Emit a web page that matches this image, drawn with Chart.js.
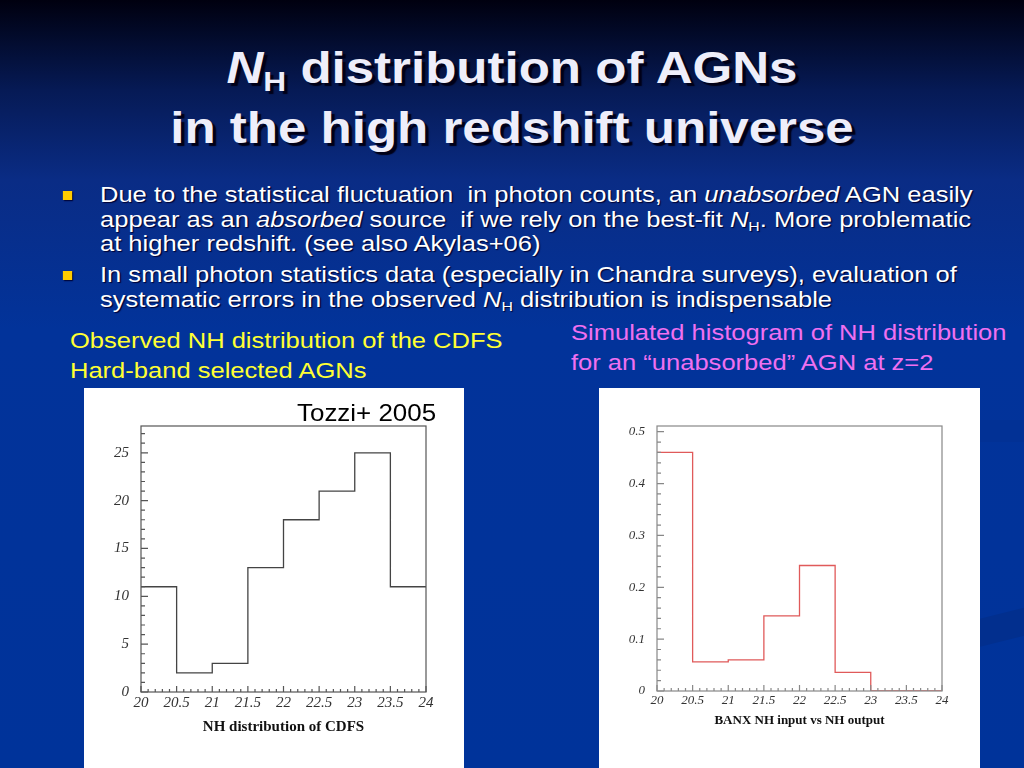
<!DOCTYPE html>
<html>
<head>
<meta charset="utf-8">
<script src="https://cdn.jsdelivr.net/npm/chart.js@4.4.1/dist/chart.umd.min.js"></script>
<style>
  html, body { margin: 0; padding: 0; }
  body {
    width: 1024px; height: 768px; overflow: hidden; position: relative;
    background: linear-gradient(to bottom, #00000f 0px, #061a55 90px, #0a2c85 180px, #02339a 330px, #00339a 768px);
    font-family: "Liberation Sans", Arial, sans-serif;
  }
  .swoosh1 { position: absolute; left: 975px; top: 610px; width: 80px; height: 28px; background: #022f8e; transform: skewY(-14deg); }
  .swoosh2 { position: absolute; left: 975px; top: 420px; width: 80px; height: 22px; background: #023195; }
  .title {
    position: absolute; left: 0; top: 38px; width: 1024px; text-align: center;
    font-weight: bold; font-size: 44px; line-height: 60px; color: #eeeefa;
    text-shadow: 3px 3px 1px #000018;
    transform: scaleX(1.16); transform-origin: 512px 0;
  }
  .sub { font-size: 0.62em; position: relative; top: 0.3em; line-height: 0; }
  .bullets {
    position: absolute; left: 100px; top: 183px; color: #fff; font-size: 22px; line-height: 24.5px;
    text-shadow: 1px 1px 1px #000030; white-space: nowrap;
    transform: scaleX(1.16); transform-origin: 0 0;
  }
  .bullets p { margin: 0 0 6.5px 0; position: relative; }
  .bullets p::before { content: ""; position: absolute; left: -32px; top: 8px; width: 8px; height: 9px; background: #ffcc00; box-shadow: 1px 1px 1px #000030; }
  .lbl { position: absolute; font-size: 22px; line-height: 30px; white-space: nowrap; transform: scaleX(1.16); transform-origin: 0 0; }
  .yel { left: 70px; top: 326px; color: #ffff33; }
  .mag { left: 571px; top: 318px; color: #f070f0; }
  .panel { position: absolute; background: #fff; }
  #p1 { left: 84px; top: 388px; width: 380px; height: 380px; }
  #p2 { left: 599px; top: 388px; width: 381px; height: 380px; }
  .tozzi { position: absolute; left: 297px; top: 398px; font-size: 24px; line-height: 30px; color: #000; transform: scaleX(1.08); transform-origin: 0 0; }
</style>
</head>
<body>
<div class="swoosh2"></div>
<div class="swoosh1"></div>
<div class="title"><i>N</i><span class="sub">H</span> distribution of AGNs<br>in the high redshift universe</div>
<div class="bullets">
  <p>Due to the statistical fluctuation &nbsp;in photon counts, an <i>unabsorbed</i> AGN easily<br>appear as an <i>absorbed</i> source &nbsp;if we rely on the best-fit <i>N</i><span class="sub">H</span>. More problematic<br>at higher redshift. (see also Akylas+06)</p>
  <p>In small photon statistics data (especially in Chandra surveys), evaluation of<br>systematic errors in the observed <i>N</i><span class="sub">H</span> distribution is indispensable</p>
</div>
<div class="lbl yel">Observed NH distribution of the CDFS<br>Hard-band selected AGNs</div>
<div class="lbl mag">Simulated histogram of NH distribution<br>for an “unabsorbed” AGN at z=2</div>
<div class="panel" id="p1"><canvas id="c1" width="380" height="380"></canvas></div>
<div class="panel" id="p2"><canvas id="c2" width="381" height="380"></canvas></div>
<div class="tozzi">Tozzi+ 2005</div>

<script>
// bin edges of log NH and the histogram contents
const binEdges = [20, 20.5, 21, 21.5, 22, 22.5, 23, 23.5, 24];
const cdfsCounts = [11, 2, 3, 13, 18, 21, 25, 11];
const simFractions = [0.46, 0.056, 0.06, 0.145, 0.242, 0.036, 0, 0];
const xTickLabels = ['20', '20.5', '21', '21.5', '22', '22.5', '23', '23.5', '24'];
const cdfsTicks = [0, 5, 10, 15, 20, 25];
const simTicks = [0, 0.1, 0.2, 0.3, 0.4, 0.5];
const simTickLabels = ['0', '0.1', '0.2', '0.3', '0.4', '0.5'];

// histogram -> step points (last edge repeats the last bin)
function steps(values) {
    return binEdges.map((e, i) => ({ x: e, y: values[Math.min(i, values.length - 1)] }));
}

// ROOT-like frame with inward ticks
const rootFrame = {
    id: 'rootFrame',
    afterDatasetsDraw(chart, args, o) {
        const { ctx, chartArea: a, scales: { x, y } } = chart;
        ctx.save();
        ctx.strokeStyle = o.color;
        ctx.lineWidth = 1.2;
        ctx.strokeRect(a.left, a.top, a.right - a.left, a.bottom - a.top);
        ctx.beginPath();
        let n = Math.round((x.max - x.min) / o.xMinor);
        for (let i = 0; i <= n; i++) {
            const px = x.getPixelForValue(x.min + i * o.xMinor);
            const len = i % o.xEvery === 0 ? 6 : 3;
            ctx.moveTo(px, a.bottom);
            ctx.lineTo(px, a.bottom - len);
        }
        n = Math.floor(y.max / o.yMinor + 1e-6);
        for (let i = 0; i <= n; i++) {
            const py = y.getPixelForValue(i * o.yMinor);
            const len = i % o.yEvery === 0 ? 7 : 4;
            ctx.moveTo(a.left, py);
            ctx.lineTo(a.left + len, py);
        }
        ctx.stroke();
        ctx.restore();
    }
};

function histChart(id, values, color, yMax, yTicks, yLabels, title, font, pad, frame) {
    const tickFont = { family: '"Liberation Serif", "Times New Roman", serif', style: 'italic', size: font };
    return new Chart(document.getElementById(id), {
        type: 'line',
        data: {
            datasets: [{
                data: steps(values),
                stepped: 'before',
                borderColor: color,
                borderWidth: 1.3,
                pointRadius: 0,
                fill: false
            }]
        },
        options: {
            responsive: false,
            animation: false,
            layout: { padding: { left: 0, top: pad.top, right: pad.right, bottom: 0 } },
            plugins: {
                legend: { display: false },
                tooltip: { enabled: false },
                rootFrame: frame
            },
            scales: {
                x: {
                    type: 'linear', min: 20, max: 24,
                    grid: { display: false, drawTicks: false },
                    border: { display: false },
                    afterBuildTicks: s => { s.ticks = binEdges.map(v => ({ value: v })); },
                    afterFit: s => { s.height = pad.bottom; },
                    ticks: {
                        color: '#333', font: tickFont, padding: 2, maxRotation: 0, autoSkip: false,
                        callback: (v, i) => xTickLabels[i]
                    },
                    title: {
                        display: true, text: title, color: '#111', padding: { top: 0, bottom: pad.titleBottom },
                        font: { family: '"Liberation Serif", "Times New Roman", serif', weight: 'bold', size: font }
                    }
                },
                y: {
                    min: 0, max: yMax,
                    grid: { display: false, drawTicks: false },
                    border: { display: false },
                    afterBuildTicks: s => { s.ticks = yTicks.map(v => ({ value: v })); },
                    afterFit: s => { s.width = pad.left; },
                    ticks: {
                        color: '#333', font: tickFont, padding: 12,
                        callback: (v, i) => yLabels[i]
                    }
                }
            }
        },
        plugins: [rootFrame]
    });
}

histChart('c1', cdfsCounts, '#444', 27.8, cdfsTicks, cdfsTicks.map(String),
    'NH distribution of CDFS', 15,
    { left: 57, top: 38, right: 38, bottom: 76, titleBottom: 32 },
    { color: '#555', xMinor: 0.1, xEvery: 5, yMinor: 1, yEvery: 5 });

histChart('c2', simFractions, '#e05a5a', 0.511, simTicks, simTickLabels,
    'BANX NH input vs NH output', 13,
    { left: 58, top: 38, right: 38, bottom: 77, titleBottom: 40 },
    { color: '#888', xMinor: 0.1, xEvery: 5, yMinor: 0.02, yEvery: 5 });
</script>
</body>
</html>
